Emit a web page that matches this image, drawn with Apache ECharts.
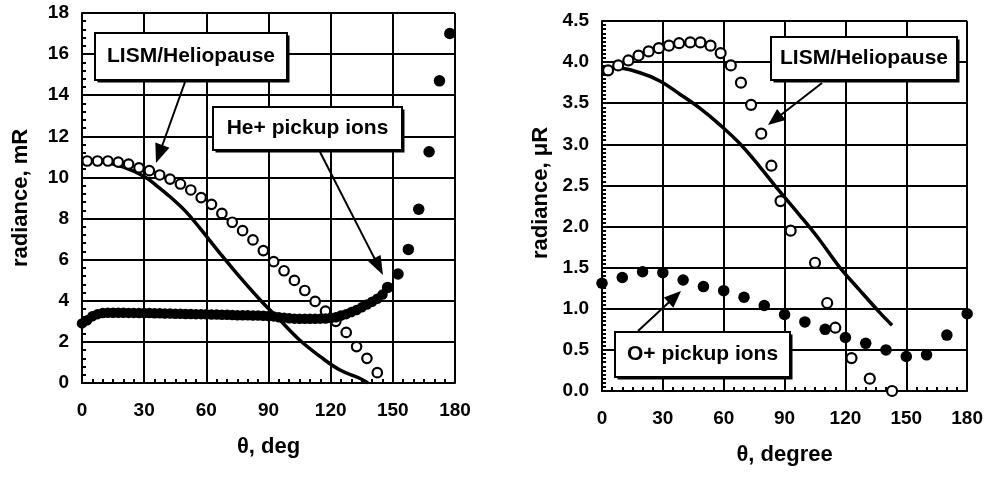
<!DOCTYPE html>
<html><head><meta charset="utf-8">
<script src="https://cdn.jsdelivr.net/npm/echarts@6/dist/echarts.min.js"></script>
<style>html,body{margin:0;padding:0;background:#fff}#c{width:986px;height:477px}</style>
</head><body><div id="c"></div><script>
// ---------- data (left panel: He+) ----------
const heOpenX = [2.5,7.5,12.5,17.5,22.5,27.5,32.5,37.5,42.5,47.5,52.5,57.5,62.5,67.5,72.5,77.5,82.5,87.5,92.5,97.5,102.5,107.5,112.5,117.5,122.5,127.5,132.5,137.5,142.5];
const heOpenY = [10.8,10.8,10.8,10.75,10.65,10.47,10.33,10.12,9.92,9.68,9.39,9.02,8.69,8.25,7.82,7.41,6.96,6.44,5.9,5.46,4.99,4.5,3.97,3.5,3.0,2.46,1.77,1.2,0.5];
const heLineX = [0,10,20,30,36,42.5,50,57,66.6,76,86,95.5,105,115,124.5,134,138];
const heLineY = [10.8,10.75,10.5,10.05,9.6,9.06,8.35,7.52,6.31,5.17,4.04,3.06,2.09,1.28,0.63,0.23,0.0];
const heDotX = [0,2.5,5,7.5,10,12.5,15,17.5,20,22.5,25,27.5,30,32.5,35,37.5,40,42.5,45,47.5,50,52.5,55,57.5,60,62.5,65,67.5,70,72.5,75,77.5,80,82.5,85,87.5,90,92.5,95,97.5,100,102.5,105,107.5,110,112.5,115,117.5,120,122.5,125,127.5,130,132.5,135,137.5,140,142.5,145,147.5,152.5,157.5,162.5,167.5,172.5,177.5];
const heDotY = [2.9,3.05,3.25,3.35,3.4,3.42,3.42,3.42,3.42,3.41,3.41,3.4,3.4,3.4,3.39,3.39,3.38,3.38,3.37,3.37,3.36,3.36,3.35,3.35,3.34,3.33,3.33,3.32,3.32,3.31,3.3,3.3,3.29,3.28,3.28,3.27,3.26,3.24,3.2,3.18,3.15,3.13,3.12,3.12,3.12,3.12,3.13,3.14,3.16,3.2,3.28,3.35,3.45,3.55,3.68,3.82,3.95,4.1,4.3,4.65,5.3,6.5,8.45,11.25,14.7,17.0];
const leftXTicks = [0,30,60,90,120,150,180];
const leftYTicks = [0,2,4,6,8,10,12,14,16,18];

// ---------- data (right panel: O+) ----------
const oOpenX = [3,8,13,18,23,28,33,38,43.5,48.5,53.5,58.5,63.5,68.5,73.5,78.5,83.5,88,93,105,111,115,123,132,143];
const oOpenY = [3.9,3.96,4.02,4.08,4.13,4.17,4.2,4.23,4.24,4.24,4.2,4.11,3.96,3.75,3.48,3.13,2.74,2.31,1.95,1.56,1.07,0.77,0.4,0.15,0.0];
const oLineX = [0,7,18.7,28.5,38.4,48.2,58,67.9,77.7,87.5,97.4,107.2,117,126.9,136.7,143];
const oLineY = [3.89,3.93,3.87,3.77,3.61,3.44,3.24,3.01,2.73,2.43,2.14,1.84,1.51,1.23,0.96,0.8];
const oDotX = [0,10,20,30,40,50,60,70,80,90,100,110,120,130,140,150,160,170,180];
const oDotY = [1.31,1.38,1.45,1.44,1.35,1.27,1.22,1.14,1.04,0.93,0.84,0.75,0.65,0.58,0.5,0.42,0.44,0.68,0.94];
const rightXTicks = [0,30,60,90,120,150,180];
const rightYTicks = [0,0.5,1,1.5,2,2.5,3,3.5,4,4.5];

// ---------- labels ----------
const leftXName = 'θ, deg', leftYName = 'radiance, mR';
const rightXName = 'θ, degree', rightYName = 'radiance, μR';
const annLeft1 = 'LISM/Heliopause', annLeft2 = 'He+ pickup ions';
const annRight1 = 'LISM/Heliopause', annRight2 = 'O+ pickup ions';

const zip = (xs, ys) => xs.map((x, i) => [x, ys[i]]);
const F = '"Liberation Sans", Arial, sans-serif';
const BLK = '#000';

const G = [
  {left: 82, top: 13, width: 373, height: 370},
  {left: 602, top: 21, width: 366, height: 370}
];

function mainX(gi, ticks, name, split) {
  return {
    type: 'value', gridIndex: gi, min: ticks[0], max: ticks[ticks.length-1], interval: ticks[1]-ticks[0],
    position: 'bottom',
    name: name, nameLocation: 'middle', nameGap: 53,
    nameTextStyle: {fontFamily: F, fontSize: 22, fontWeight: 'bold', color: BLK},
    axisLine: {show: true, onZero: false, lineStyle: {color: BLK, width: 2}},
    axisTick: {show: true, inside: true, length: 6, lineStyle: {color: BLK, width: 2}},
    minorTick: {show: true, splitNumber: split, length: 4, lineStyle: {color: BLK, width: 2}},
    axisLabel: {margin: 18, fontFamily: F, fontSize: 19, fontWeight: 'bold', color: BLK},
    splitLine: {show: true, lineStyle: {color: BLK, width: 2}}
  };
}
function mainY(gi, ticks, name, fmt, pad, split) {
  return {
    type: 'value', gridIndex: gi, min: ticks[0], max: ticks[ticks.length-1], interval: ticks[1]-ticks[0],
    position: 'left',
    name: name, nameLocation: 'middle', nameGap: 50,
    nameTextStyle: {fontFamily: F, fontSize: 22, fontWeight: 'bold', color: BLK, padding: pad},
    axisLine: {show: true, onZero: false, lineStyle: {color: BLK, width: 2}},
    axisTick: {show: true, inside: true, length: 6, lineStyle: {color: BLK, width: 2}},
    minorTick: {show: true, splitNumber: split, length: 4, lineStyle: {color: BLK, width: 2}},
    axisLabel: {margin: 13, fontFamily: F, fontSize: 19, fontWeight: 'bold', color: BLK, formatter: fmt},
    splitLine: {show: true, lineStyle: {color: BLK, width: 2}}
  };
}

const series = [
  {type: 'line', xAxisIndex: 0, yAxisIndex: 0, data: zip(heLineX, heLineY), smooth: 0.4, showSymbol: false, symbol: 'none', lineStyle: {color: BLK, width: 3.5}, z: 2},
  {type: 'scatter', xAxisIndex: 0, yAxisIndex: 0, data: zip(heOpenX, heOpenY), symbol: 'circle', symbolSize: 9.5, itemStyle: {color: '#fff', borderColor: BLK, borderWidth: 2.2, opacity: 1}, z: 3},
  {type: 'scatter', xAxisIndex: 0, yAxisIndex: 0, data: zip(heDotX, heDotY), symbol: 'circle', symbolSize: v => v[0] > 146 ? 11.5 : 10.5, itemStyle: {color: BLK, opacity: 1}, z: 4},
  {type: 'line', xAxisIndex: 1, yAxisIndex: 1, data: zip(oLineX, oLineY), smooth: 0.4, showSymbol: false, symbol: 'none', lineStyle: {color: BLK, width: 3.5}, z: 2},
  {type: 'scatter', xAxisIndex: 1, yAxisIndex: 1, data: zip(oOpenX, oOpenY), symbol: 'circle', symbolSize: 10, itemStyle: {color: '#fff', borderColor: BLK, borderWidth: 2.2, opacity: 1}, z: 3},
  {type: 'scatter', xAxisIndex: 1, yAxisIndex: 1, data: zip(oDotX, oDotY), symbol: 'circle', symbolSize: 11.5, itemStyle: {color: BLK, opacity: 1}, z: 4}
];

function box(x, y, w, h, label) {
  return [
    {type: 'rect', shape: {x: x + 2.5, y: y + 2.5, width: w, height: h}, style: {fill: BLK}, z: 100},
    {type: 'rect', shape: {x: x, y: y, width: w, height: h}, style: {fill: '#fff', stroke: BLK, lineWidth: 2}, z: 101},
    {type: 'text', x: x + w / 2, y: y + h / 2, style: {text: label, fill: BLK, font: 'bold 21px ' + F, align: 'center', verticalAlign: 'middle'}, z: 102}
  ];
}
function arrow(x1, y1, x2, y2, L, W) {
  const dx = x2 - x1, dy = y2 - y1, d = Math.hypot(dx, dy);
  const ux = dx / d, uy = dy / d, px = -uy, py = ux;
  const bx = x2 - ux * L, by = y2 - uy * L;
  return [
    {type: 'line', shape: {x1: x1, y1: y1, x2: bx + ux * 2, y2: by + uy * 2}, style: {stroke: BLK, lineWidth: 2}, z: 99},
    {type: 'polygon', shape: {points: [[x2, y2], [bx + px * W / 2, by + py * W / 2], [bx - px * W / 2, by - py * W / 2]]}, style: {fill: BLK}, z: 99}
  ];
}

const graphic = [].concat(
  arrow(185, 82, 156, 163, 19, 15),
  box(95, 33, 192, 47, annLeft1),
  arrow(320, 152, 383, 275, 19, 14),
  box(213, 107, 189, 43, annLeft2),
  arrow(822, 83, 768, 125, 17, 14),
  box(771, 37, 186, 43, annRight1),
  arrow(638, 331, 681, 291, 17, 14),
  box(615, 332, 175, 45, annRight2)
);

const chart = echarts.init(document.getElementById('c'), null, {renderer: 'canvas'});
chart.setOption({
  animation: false,
  backgroundColor: '#fff',
  grid: G,
  xAxis: [
    mainX(0, leftXTicks, leftXName, 6),
    mainX(1, rightXTicks, rightXName, 6)
  ],
  yAxis: [
    mainY(0, leftYTicks, leftYName, v => String(v), [0,0,0,0], 5),
    mainY(1, rightYTicks, rightYName, v => v.toFixed(1), [0,0,0,26], 10)
  ],
  series: series,
  graphic: graphic
});
</script></body></html>
